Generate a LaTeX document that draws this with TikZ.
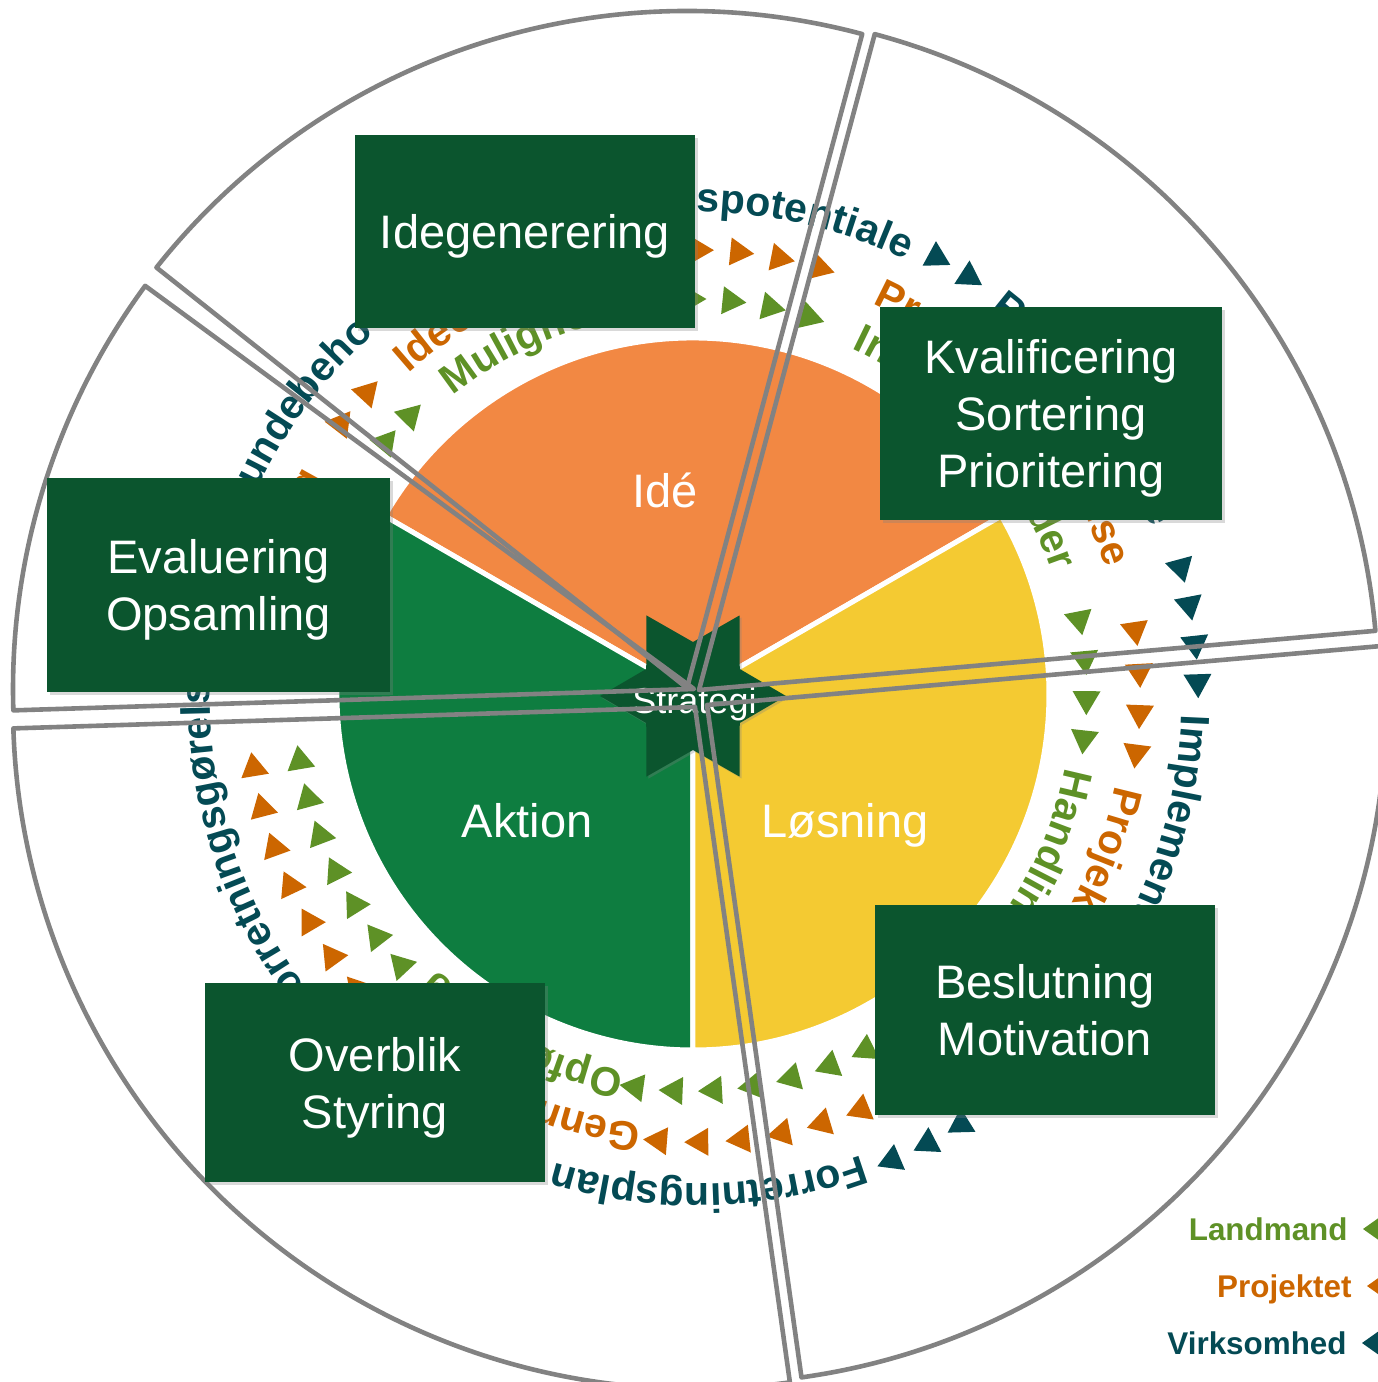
\documentclass[tikz,border=0pt]{standalone}
\usepackage{fontspec}
\setmainfont{Liberation Sans}
\usetikzlibrary{decorations.text,shadows}
\definecolor{boxgreen}{HTML}{0B552E}
\definecolor{pieorange}{HTML}{F28843}
\definecolor{pieyellow}{HTML}{F4CA32}
\definecolor{piegreen}{HTML}{0E7D40}
\definecolor{vteal}{HTML}{044A54}
\definecolor{porange}{HTML}{CC6600}
\definecolor{lgreen}{HTML}{5E9126}
\definecolor{piecegray}{HTML}{828282}
\newcommand\bigfont{\fontsize{23.5}{28.5}\selectfont}
\newcommand\ringword[4]{\path[decorate,decoration={text along path,text align=left,
    text={|\fontsize{20.5}{24}\selectfont\bfseries\color{#1}|#4}}]
  (#3:#2) arc[start angle=#3,end angle=#3-75,radius=#2];}
\newcommand\ringtri[3]{\fill[#1,shift={(#3:#2)},rotate=#3-90] (16,0) -- (-8,14) -- (-8,-14) -- cycle;}
\begin{document}
\begin{tikzpicture}[x=0.5pt,y=0.5pt,
    phase/.style={fill=boxgreen,text=white,font=\bigfont,align=center,inner sep=0pt,text depth=0pt,
      drop shadow={shadow xshift=1.5pt,shadow yshift=-1.5pt,opacity=0.3}},
    piece/.style={draw=piecegray,line width=2.3pt,line join=round},
    slice/.style={draw=white,line width=2.5pt},
    pielabel/.style={text=white,font=\bigfont,anchor=base},
    legend/.style={font=\fontsize{15.7}{18}\selectfont\bfseries,inner sep=0pt,anchor=base east}]
  \useasboundingbox (-693,-688) rectangle (684,694);
  % pie
  \filldraw[pieorange,slice] (0,0) -- (30:356) arc[start angle=30,end angle=150,radius=356] -- cycle;
  \filldraw[piegreen,slice] (0,0) -- (150:356) arc[start angle=150,end angle=270,radius=356] -- cycle;
  \filldraw[pieyellow,slice] (0,0) -- (270:356) arc[start angle=270,end angle=390,radius=356] -- cycle;
  \node[pielabel] (ide) at (-28,187) {Idé};
  \node[pielabel] (aktion) at (-166,-143) {Aktion};
  \node[pielabel] (losning) at (152,-143) {Løsning};
  \fill[boxgreen,shift={(0,-2)},drop shadow={shadow xshift=1pt,shadow yshift=-1pt,opacity=0.3}]
    (0:93) -- (30:54) -- (60:93) -- (90:54) -- (120:93) -- (150:54) -- (180:93)
    -- (210:54) -- (240:93) -- (270:54) -- (300:93) -- (330:54) -- cycle;
  \node[text=white,font=\fontsize{18}{20}\selectfont,anchor=base] (strategi) at (1.5,-19) {Strategi};
  % Virksomhed
  \begin{scope}[shift={(3,-4)}]
    \ringword{vteal}{486}{-140.5}{Forretningsgørelse}
    \ringword{vteal}{486}{158}{Kundebehov}
    \ringword{vteal}{486}{114.1}{Forretningspotentiale}
    \ringword{vteal}{486}{52.8}{Risikoanalyse}
    \ringword{vteal}{486}{-2}{Implementering}
    \ringword{vteal}{486}{-70.1}{Forretningsplan}
    \foreach \a in {61.4,57.1,15.1,10.7,6.2,1.8,-58.1,-62.5,-67.0} {\ringtri{vteal}{502}{\a}}
  \end{scope}
  % Projektet
  \begin{scope}[shift={(1,-2)}]
    \ringword{porange}{431}{176.5}{Afslutning}
    \ringword{porange}{431}{131.5}{Idéer}
    \ringword{porange}{431}{65.5}{Projektbeskrivelse}
    \ringword{porange}{431}{-12}{Projektplan}
    \ringword{porange}{431}{-97}{Gennemførelse}
    \foreach \a in {142.4,137.2,89.5,84.3,79.0,73.7,8.5,3.1,-2.2,-7.3,
        -68.0,-73.3,-78.6,-83.9,-89.2,-94.5,-139.0,-144.2,-149.5,-154.8,-160.1,-165.4,-170.7}
      {\ringtri{porange}{446}{\a}}
  \end{scope}
  % Landmand
  \begin{scope}[shift={(-2.5,-1)}]
    \ringword{lgreen}{382}{128.5}{Muligheder}
    \ringword{lgreen}{382}{65}{Indsatsområder}
    \ringword{lgreen}{382}{-11}{Handlingsplan}
    \ringword{lgreen}{382}{-100}{Opfølgning}
    \foreach \a in {140.4,135.2,90.0,84.2,78.4,72.6,11.0,5.2,-0.6,-6.3,
        -63.7,-69.4,-75.2,-80.9,-86.6,-92.3,-98.0,-136.9,-142.3,-148.0,-153.5,-159.2,-164.8,-170.4}
      {\ringtri{lgreen}{396}{\a}}
  \end{scope}
  % pieces
  \draw[piece] (-6,6) -- ++(75:677) arc[start angle=75,end angle=141.6,radius=677] -- cycle;
  \draw[piece] (6,4) -- ++(5:679) arc[start angle=5,end angle=75,radius=679] -- cycle;
  \draw[piece] (14,-11) -- ++(-82:679) arc[start angle=-82,end angle=5,radius=679] -- cycle;
  \draw[piece] (2,-13) -- ++(181.8:682) arc[start angle=181.8,end angle=278,radius=682] -- cycle;
  \draw[piece] (1,5) -- ++(143.7:681) arc[start angle=143.7,end angle=181.8,radius=681] -- cycle;
  % phases
  \node[phase,minimum width=170pt,minimum height=96.5pt] (idegen) at (-168,462.5) {Idegenerering};
  \node[phase,minimum width=171pt,minimum height=106.5pt] (kval) at (358,280.5) {Kvalificering\\Sortering\\Prioritering};
  \node[phase,minimum width=171.5pt,minimum height=107pt] (evaluering) at (-474.5,109) {Evaluering\\Opsamling};
  \node[phase,minimum width=170pt,minimum height=99.5pt] (overblik) at (-318,-388.5) {Overblik\\Styring};
  \node[phase,minimum width=170pt,minimum height=105pt] (beslutning) at (352,-316) {Beslutning\\Motivation};
  % legend
  \node[legend,text=lgreen] (lgland) at (655,-546) {Landmand};
  \node[legend,text=porange] (lgproj) at (659,-603) {Projektet};
  \node[legend,text=vteal] (lgvirk) at (654,-660) {Virksomhed};
  \fill[lgreen] ([xshift=7.5pt,yshift=5.5pt]lgland.base east) -- ++(24,17) -- ++(0,-34) -- cycle;
  \fill[porange] ([xshift=7.5pt,yshift=5.5pt]lgproj.base east) -- ++(24,17) -- ++(0,-34) -- cycle;
  \fill[vteal] ([xshift=7.5pt,yshift=5.5pt]lgvirk.base east) -- ++(24,17) -- ++(0,-34) -- cycle;
\end{tikzpicture}
\end{document}
